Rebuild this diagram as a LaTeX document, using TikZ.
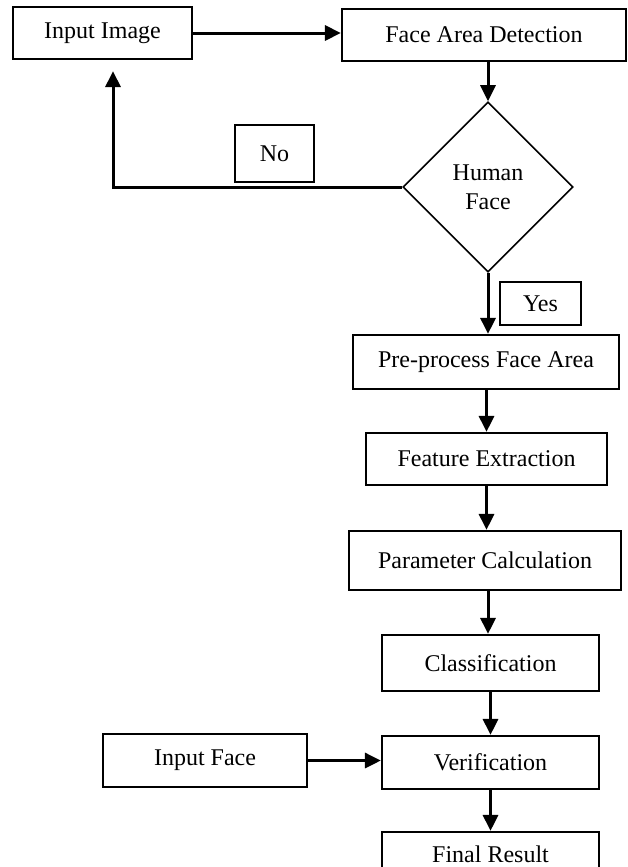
\documentclass[tikz,border=0pt]{standalone}
\usepackage{fontspec}
\setmainfont{Liberation Serif}
\usetikzlibrary{shapes.geometric,arrows.meta}
\begin{document}
\begin{tikzpicture}[x=0.5pt,y=-0.5pt,
  box/.style={draw,line width=1.1pt,inner sep=0pt,font=\fontsize{12}{14}\selectfont},
  dec/.style={draw,diamond,line width=0.8pt,inner sep=0pt,minimum width=85pt,minimum height=85pt,align=center,font=\fontsize{12}{14.5}\selectfont},
  arr/.style={line width=1.5pt,-{Triangle[length=8pt,width=7.5pt]}}]
\clip (0,0) rectangle (627,867);
\node[box,minimum width=89.5pt,minimum height=26pt] (inimg) at (102.5,33) {Input Image};
\node[box,minimum width=142pt,minimum height=26pt] (fad) at (484,35) {Face Area Detection};
\node[dec] (dia) at (488,187) {Human\\Face};
\node[box,minimum width=40.5pt,minimum height=21.5pt] (yes) at (540.5,303.5) {Yes};
\node[box,minimum width=39.5pt,minimum height=28.5pt] (no) at (274.5,153.5) {No};
\node[box,minimum width=133pt,minimum height=27pt] (pre) at (486,362) {Pre-process Face Area};
\node[box,minimum width=120.5pt,minimum height=26pt] (feat) at (486.5,459) {Feature Extraction};
\node[box,minimum width=136pt,minimum height=29.5pt] (param) at (485,560.5) {Parameter Calculation};
\node[box,minimum width=108.5pt,minimum height=28pt] (cls) at (490.5,663) {Classification};
\node[box,minimum width=108.5pt,minimum height=26.5pt] (ver) at (490.5,762.5) {Verification};
\node[box,minimum width=102pt,minimum height=26.5pt] (inface) at (205,760.5) {Input Face};
\node[box,minimum width=108.5pt,minimum height=27pt,text height=8pt,text depth=5pt] (final) at (490.5,859) {Final Result};
\draw[arr] (inimg.east) -- (inimg.east -| fad.west);
\draw[arr] (dia.north |- fad.south) -- (dia.north);
\draw[arr] (dia.west) -| ([xshift=5.25pt,yshift=-5.5pt]inimg.south);
\draw[arr] (dia.south) -- (dia.south |- pre.north);
\draw[arr] (pre.south -| feat.north) -- (feat.north);
\draw[arr] (feat.south) -- (feat.south |- param.north);
\draw[arr] ([xshift=1.5pt]param.south) -- ([xshift=1.5pt]param.south |- cls.north);
\draw[arr] (cls.south) -- (ver.north);
\draw[arr] (ver.south) -- (final.north);
\draw[arr] (inface.east) -- (inface.east -| ver.west);
\end{tikzpicture}
\end{document}
